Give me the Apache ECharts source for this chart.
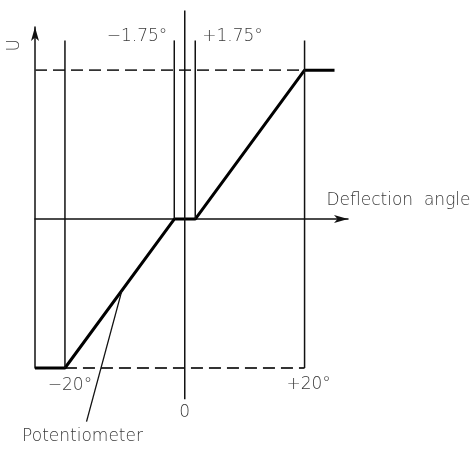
<!DOCTYPE html>
<html>
<head>
<meta charset="utf-8">
<script src="https://cdn.jsdelivr.net/npm/echarts@6/dist/echarts.min.js"></script>
<style>
  html, body { margin: 0; padding: 0; background: #fff; }
  #main { width: 473px; height: 453px; }
</style>
</head>
<body>
<div id="main"></div>
<script>
// Characteristic: voltage U vs. deflection angle (degrees)
var curveX = [-25, -20, -1.75, 1.75, 20, 25];
var curveU = [-1, -1, 0, 0, 1, 1];

// thin vertical guide lines
var guideX = [-20, -1.75, 0, 1.75, 20];
var guideTop = [1.2, 1.2, 1.4, 1.2, 1.2];
var guideBottom = [-1, 0, -1.21, 0, -1];

// dashed limit lines (U = +1 / -1)
var limitU = [1, -1];
var limitFrom = [-25, -20];
var limitTo = [20, 20];

// leader for the potentiometer label
var leaderX = [-10.5, -16.4];
var leaderU = [-0.48, -1.36];

var font = 'DejaVu Sans';
var textColor = '#000';

var chart = echarts.init(document.getElementById('main'));

function seg(points, width, color, dashed) {
  return {
    type: 'line',
    data: points,
    clip: false,
    silent: true,
    symbol: 'none',
    lineStyle: { width: width, color: color, type: dashed ? [12, 6] : 'solid' },
    z: dashed ? 2 : 3
  };
}

function textMark(x, y, text, align, offset, rotate) {
  return {
    type: 'scatter',
    data: [[x, y]],
    clip: false,
    silent: true,
    symbolSize: 0,
    label: {
      show: true,
      position: 'inside',
      formatter: text,
      align: align,
      verticalAlign: 'middle',
      offset: offset,
      rotate: rotate || 0,
      fontFamily: font,
      fontWeight: 200,
      fontSize: 17,
      color: textColor
    },
    z: 5
  };
}

var series = [];

series.push(seg(curveX.map(function (x, i) { return [x, curveU[i]]; }), 3, '#000', false));

guideX.forEach(function (x, i) {
  series.push(seg([[x, guideTop[i]], [x, guideBottom[i]]], 1.5, '#111', false));
});

limitU.forEach(function (u, i) {
  series.push(seg([[limitFrom[i], u], [limitTo[i], u]], 1.8, '#333', true));
});

series.push(seg([[leaderX[0], leaderU[0]], [leaderX[1], leaderU[1]]], 1.3, '#111', false));

series.push(textMark(-1.75, 1.2, '\u22121.75\u00b0', 'right', [-7, -4]));
series.push(textMark(1.75, 1.2, '+1.75\u00b0', 'left', [7, -4]));
series.push(textMark(-20, -1, '\u221220\u00b0', 'center', [5, 18]));
series.push(textMark(20, -1, '+20\u00b0', 'center', [4, 17]));
series.push(textMark(0, -1.21, '0', 'center', [0, 13]));
series.push(textMark(25, 0, 'Deflection  angle', 'left', [-8, -19]));
series.push(textMark(leaderX[1], leaderU[1], 'Potentiometer', 'center', [-4, 15]));
// rotated label: offset is in the label's own (rotated) frame
series.push(textMark(-25, 1, 'U', 'center', [25, -20], 90));

chart.setOption({
  animation: false,
  backgroundColor: '#fff',
  grid: { left: 35, top: 27, width: 313, height: 341 },
  xAxis: {
    type: 'value',
    min: -25,
    max: 27.25,
    axisLine: {
      onZero: true,
      symbol: ['none', 'arrow'],
      symbolSize: [6, 14],
      lineStyle: { color: '#111', width: 1.5 }
    },
    axisTick: { show: false },
    axisLabel: { show: false },
    splitLine: { show: false }
  },
  yAxis: {
    type: 'value',
    min: -1,
    max: 1.29,
    axisLine: {
      show: true,
      onZero: false,
      symbol: ['none', 'arrow'],
      symbolSize: [6, 14],
      lineStyle: { color: '#111', width: 1.5 }
    },
    axisTick: { show: false },
    axisLabel: { show: false },
    splitLine: { show: false }
  },
  series: series
});
</script>
</body>
</html>
